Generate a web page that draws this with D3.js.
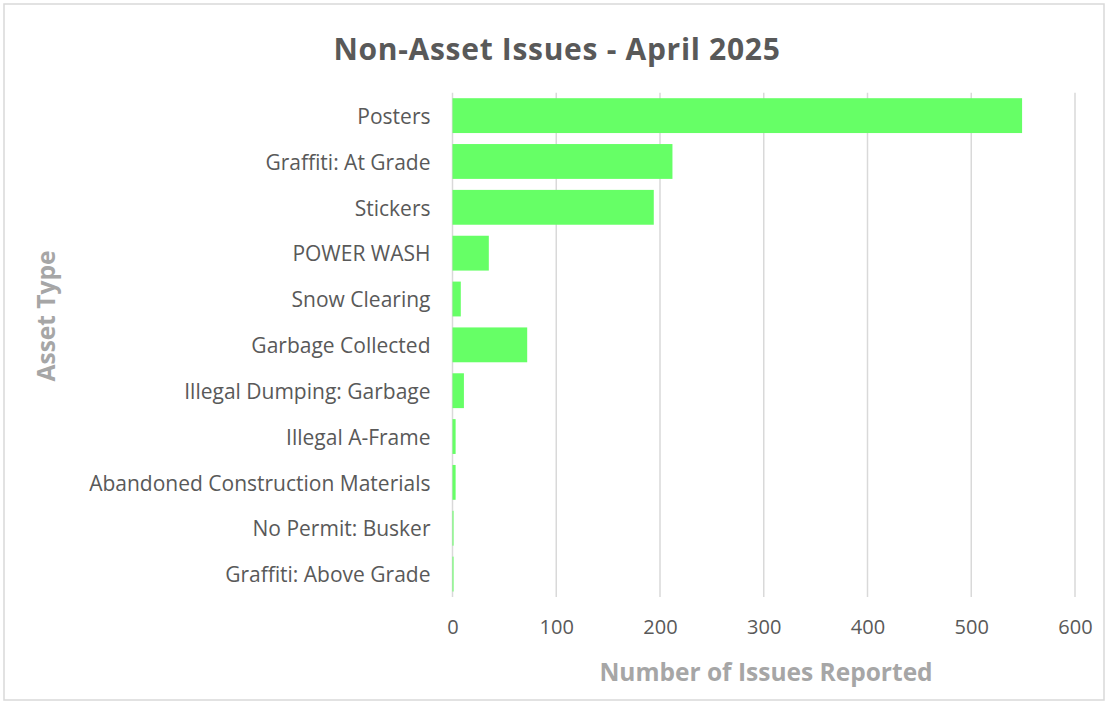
<!DOCTYPE html>
<html><head><meta charset="utf-8">
<script src="https://cdn.jsdelivr.net/npm/d3@7"></script>
<style>body{margin:0;background:#fff;} text{font-family:"Open Sans",sans-serif;}</style>
</head><body>
<svg id="c" width="1106" height="704"></svg>
<script>
const categories = ["Posters","Graffiti: At Grade","Stickers","POWER WASH","Snow Clearing","Garbage Collected","Illegal Dumping: Garbage","Illegal A-Frame","Abandoned Construction Materials","No Permit: Busker","Graffiti: Above Grade"];
const values = [549,212,194,35,8,72,11,3,3,1,1];
const xTicks = [0,100,200,300,400,500,600];
const title = "Non-Asset Issues - April 2025";
const xTitle = "Number of Issues Reported";
const yTitle = "Asset Type";

(function(){
const F = "'Open Sans',sans-serif";
const svg = d3.select("#c");
svg.append("rect").attr("x",4).attr("y",4).attr("width",1100).attr("height",696)
  .attr("fill","#fff").attr("stroke","#d9d9d9").attr("stroke-width",1.5);

const pL = 452.5, pR = 1075, pT = 92.7, pB = 597;
const x = d3.scaleLinear().domain([0,600]).range([pL,pR]);
const y = d3.scaleBand().domain(categories).range([pT,pB]).paddingInner(0.24).paddingOuter(0.12);

svg.append("g").selectAll("line").data(xTicks).join("line")
  .attr("x1",d=>x(d)).attr("x2",d=>x(d)).attr("y1",pT).attr("y2",pB)
  .attr("stroke","#d9d9d9").attr("stroke-width",1.5);

svg.append("g").selectAll("rect").data(values).join("rect")
  .attr("x",x(0)).attr("y",(d,i)=>y(categories[i]))
  .attr("width",d=>x(d)-x(0)).attr("height",y.bandwidth())
  .attr("fill","#66ff66");

const yAxis = d3.axisLeft(y).tickSize(0).tickPadding(22);
const gy = svg.append("g").attr("transform",`translate(${pL},1.5)`).call(yAxis);
gy.select(".domain").remove();
gy.selectAll("text").attr("fill","#595959").style("font-size","21px").style("font-family",F);

const xAxis = d3.axisBottom(x).tickValues(xTicks).tickSize(0).tickPadding(23);
const gx = svg.append("g").attr("transform",`translate(0,${pB})`).call(xAxis);
gx.select(".domain").remove();
gx.selectAll("text").attr("fill","#595959").style("font-size","20px").style("font-family",F);

svg.append("text").attr("x",557).attr("y",60).attr("text-anchor","middle")
  .attr("fill","#595959").style("font-size","30px").style("letter-spacing","0.7px").style("font-weight","bold").style("font-family",F).text(title);
svg.append("text").attr("x",766).attr("y",681).attr("text-anchor","middle")
  .attr("fill","#a6a6a6").style("font-size","24.5px").style("font-weight","bold").style("font-family",F).text(xTitle);
svg.append("text").attr("transform","translate(55,316) rotate(-90)").attr("text-anchor","middle")
  .attr("fill","#a6a6a6").style("font-size","24.5px").style("font-weight","bold").style("font-family",F).text(yTitle);
})();
</script>
</body></html>
